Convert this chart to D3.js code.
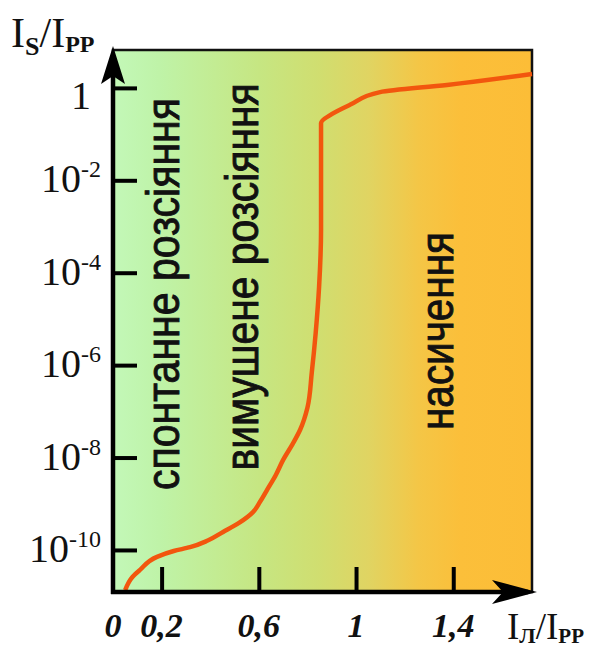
<!DOCTYPE html>
<html>
<head>
<meta charset="utf-8">
<script src="https://cdn.jsdelivr.net/npm/d3@7"></script>
<style>
  body { margin: 0; background: #fff; }
  svg { display: block; }
</style>
</head>
<body>
<div id="chart"></div>
<script>
// Chart data
const curveX = [0.05, 0.08, 0.111, 0.181, 0.25, 0.317, 0.39, 0.453, 0.52, 0.576, 0.605, 0.634, 0.67, 0.70, 0.74, 0.77, 0.80, 0.818, 0.834, 0.848, 0.856, 0.856, 0.90, 0.975, 1.099, 1.374, 1.724];
const curveY = [1.35e-11, 2.6e-11, 3.7e-11, 7.1e-11, 9.5e-11, 1.15e-10, 1.6e-10, 2.45e-10, 3.9e-10, 6.6e-10, 1.1e-9, 2.0e-9, 4.2e-9, 8.9e-9, 2.0e-8, 4.0e-8, 1.2e-7, 7.0e-7, 5.0e-6, 5.0e-5, 8.5e-4, 0.174, 0.27, 0.43, 0.81, 1.16, 2.0];

const yTickValues = [1, 1e-2, 1e-4, 1e-6, 1e-8, 1e-10];
const yTickExps = ['', '-2', '-4', '-6', '-8', '-10'];
const xTickValues = [0.2, 0.6, 1, 1.4];
const xLabelValues = [0, 0.2, 0.6, 1, 1.4];
const xLabelTexts = ['0', '0,2', '0,6', '1', '1,4'];

const regionLabels = ['спонтанне розсіяння', 'вимушене розсіяння', 'насичення'];

const W = 601, H = 650;
const plot = { left: 113, right: 532, top: 50, bottom: 592 };

const svg = d3.select('#chart').append('svg')
    .attr('width', W)
    .attr('height', H);

const x = d3.scaleLinear()
    .domain([0, 1.724])
    .range([plot.left, plot.right]);

const y = d3.scaleLog()
    .domain([Math.pow(10, -10.91), Math.pow(10, 0.82)])
    .range([plot.bottom, plot.top]);

// background gradient
const defs = svg.append('defs');
const grad = defs.append('linearGradient')
    .attr('id', 'bg')
    .attr('x1', '0%').attr('x2', '100%')
    .attr('y1', '0%').attr('y2', '0%');
[
    ['0%', '#c3f8b8'],
    ['11%', '#bff3a8'],
    ['35%', '#c6e682'],
    ['49%', '#d0de70'],
    ['61%', '#e0d462'],
    ['73%', '#f4c646'],
    ['83%', '#fbbf3a'],
    ['100%', '#fcbd37']
].forEach(([o, c]) => grad.append('stop').attr('offset', o).attr('stop-color', c));

svg.append('rect')
    .attr('x', plot.left)
    .attr('y', plot.top)
    .attr('width', plot.right - plot.left)
    .attr('height', plot.bottom - plot.top)
    .attr('fill', 'url(#bg)')
    .attr('stroke', '#111')
    .attr('stroke-width', 2.5);

// region labels (rotated)
const labelFont = '"Liberation Sans", Arial, sans-serif';
const labelPos = [
    { bx: 179, cy: 294, len: 392 },
    { bx: 258, cy: 277, len: 387 },
    { bx: 453, cy: 331, len: 198 }
];
regionLabels.forEach((t, i) => {
    svg.append('text')
        .attr('transform', `translate(${labelPos[i].bx},${labelPos[i].cy}) rotate(-90)`)
        .attr('text-anchor', 'middle')
        .attr('font-family', labelFont)
        .attr('font-size', 46)
        .attr('textLength', labelPos[i].len)
        .attr('lengthAdjust', 'spacingAndGlyphs')
        .attr('fill', '#111')
        .attr('stroke', '#111')
        .attr('stroke-width', 0.9)
        .text(t);
});

// curve
const line = d3.line()
    .x(d => x(d[0]))
    .y(d => y(d[1]))
    .curve(d3.curveMonotoneY);

svg.append('path')
    .datum(curveX.map((v, i) => [v, curveY[i]]))
    .attr('d', line)
    .attr('fill', 'none')
    .attr('stroke', '#f2560e')
    .attr('stroke-width', 4.5)
    .attr('stroke-linejoin', 'round');

// y ticks
const yAxis = svg.append('g')
    .attr('transform', `translate(${plot.left},0)`)
    .call(d3.axisRight(y).tickValues(yTickValues).tickSize(24).tickFormat(''));
yAxis.select('.domain').remove();
yAxis.selectAll('.tick line').attr('stroke', '#000').attr('stroke-width', 4);

// x ticks
const xAxis = svg.append('g')
    .attr('transform', `translate(0,${plot.bottom})`)
    .call(d3.axisTop(x).tickValues(xTickValues).tickSize(25).tickFormat(''));
xAxis.select('.domain').remove();
xAxis.selectAll('.tick line').attr('stroke', '#000').attr('stroke-width', 4);

// axis lines with arrows
svg.append('line')
    .attr('x1', plot.left).attr('x2', plot.left)
    .attr('y1', plot.bottom + 2).attr('y2', plot.top + 6)
    .attr('stroke', '#000').attr('stroke-width', 4.5);
svg.append('line')
    .attr('x1', plot.left - 2).attr('x2', plot.right - 4)
    .attr('y1', plot.bottom).attr('y2', plot.bottom)
    .attr('stroke', '#000').attr('stroke-width', 4.5);

const ax = plot.left, ay = plot.top - 4;
svg.append('path')
    .attr('d', `M${ax},${ay} L${ax + 12},${ay + 38} L${ax},${ay + 30} L${ax - 12},${ay + 38} Z`)
    .attr('fill', '#000');
const bx = plot.right + 5, by = plot.bottom;
svg.append('path')
    .attr('d', `M${bx},${by} L${bx - 45},${by - 12} L${bx - 34},${by} L${bx - 45},${by + 12} Z`)
    .attr('fill', '#000');

// y labels
const serif = '"Liberation Serif", "Times New Roman", serif';
yTickValues.forEach((v, i) => {
    const exp = yTickExps[i];
    const t = svg.append('text')
        .attr('font-family', serif)
        .attr('font-size', 40)
        .attr('fill', '#111')
        .attr('text-anchor', 'end')
        .attr('x', exp ? 101 : 91)
        .attr('y', y(v) + (exp ? 12 : 21));
    if (exp) {
        t.append('tspan').text('10');
        t.append('tspan').attr('font-size', 24).attr('dy', -15).text(exp);
    } else {
        t.text('1');
    }
});

// x labels
svg.selectAll('text.xlab')
    .data(xLabelValues)
    .enter()
    .append('text')
    .attr('class', 'xlab')
    .attr('x', d => x(d))
    .attr('y', 637)
    .attr('text-anchor', 'middle')
    .attr('font-family', serif)
    .attr('font-size', 34)
    .attr('font-weight', 'bold')
    .attr('font-style', 'italic')
    .attr('fill', '#111')
    .text((d, i) => xLabelTexts[i]);

// axis titles
const yTitle = svg.append('text')
    .attr('x', 11).attr('y', 47)
    .attr('font-family', serif)
    .attr('font-size', 42)
    .attr('fill', '#111');
yTitle.append('tspan').text('I');
yTitle.append('tspan').attr('font-size', 26).attr('font-weight', 'bold').attr('dy', 8).text('S');
yTitle.append('tspan').attr('dy', -8).text('/I');
yTitle.append('tspan').attr('font-size', 24).attr('font-weight', 'bold').attr('dy', 5).text('PP');

const xTitle = svg.append('text')
    .attr('x', 507).attr('y', 639)
    .attr('font-family', serif)
    .attr('font-size', 37)
    .attr('fill', '#111');
xTitle.append('tspan').text('I');
xTitle.append('tspan').attr('font-size', 22).attr('font-weight', 'bold').attr('dy', 4).text('Л');
xTitle.append('tspan').attr('dy', -4).text('/I');
xTitle.append('tspan').attr('font-size', 21).attr('font-weight', 'bold').attr('dy', 4).text('PP');
</script>
</body>
</html>
